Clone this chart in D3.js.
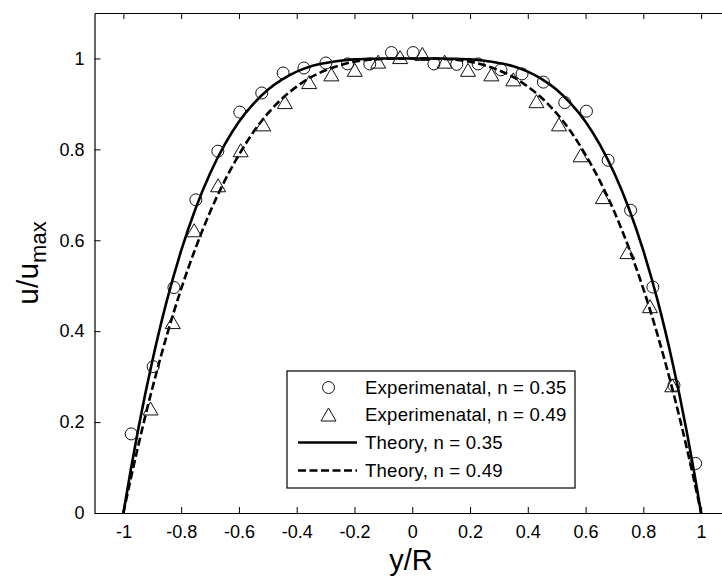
<!DOCTYPE html>
<html>
<head>
<meta charset="utf-8">
<script src="https://cdn.jsdelivr.net/npm/d3@7"></script>
<style>
    html, body { margin: 0; padding: 0; background: #fff; }
    svg { display: block; font-family: "Liberation Sans", Arial, Helvetica, sans-serif; }
</style>
</head>
<body>
<div id="chart"></div>
<script>
// experimental points, n = 0.35 (circles)
const circleX = [-0.973, -0.897, -0.825, -0.749, -0.673, -0.597, -0.521, -0.447, -0.375, -0.299, -0.224, -0.147, -0.072,
    0.003, 0.075, 0.154, 0.228, 0.307, 0.380, 0.454, 0.528, 0.603, 0.678, 0.756, 0.833, 0.906, 0.981];
const circleY = [0.174, 0.322, 0.496, 0.689, 0.796, 0.882, 0.924, 0.968, 0.979, 0.990, 0.988, 0.988, 1.013,
    1.013, 0.988, 0.987, 0.988, 0.975, 0.966, 0.948, 0.903, 0.884, 0.776, 0.666, 0.497, 0.281, 0.109];

// experimental points, n = 0.49 (triangles)
const triangleX = [-0.906, -0.829, -0.755, -0.672, -0.594, -0.516, -0.441, -0.357, -0.280, -0.199, -0.118, -0.042,
    0.035, 0.112, 0.193, 0.274, 0.350, 0.430, 0.508, 0.583, 0.660, 0.745, 0.823, 0.900];
const triangleY = [0.230, 0.420, 0.622, 0.721, 0.798, 0.855, 0.904, 0.948, 0.965, 0.975, 0.993, 1.003,
    1.010, 0.993, 0.975, 0.965, 0.954, 0.906, 0.855, 0.787, 0.695, 0.574, 0.455, 0.281];

// theory curves
const theoryX = [-1, -0.975, -0.95, -0.925, -0.9, -0.85, -0.8, -0.75, -0.7, -0.65, -0.6, -0.55, -0.5, -0.45, -0.4,
    -0.35, -0.3, -0.25, -0.2, -0.15, -0.1, -0.05, 0, 0.05, 0.1, 0.15, 0.2, 0.25, 0.3, 0.35, 0.4, 0.45, 0.5,
    0.55, 0.6, 0.65, 0.7, 0.75, 0.8, 0.85, 0.9, 0.925, 0.95, 0.975, 1];
const theory035 = [0, 0.093, 0.180, 0.260, 0.334, 0.466, 0.577, 0.670, 0.747, 0.810, 0.861, 0.900, 0.931, 0.954, 0.971,
    0.983, 0.990, 0.995, 0.998, 0.999, 1.000, 1.000, 1.000, 1.000, 1.000, 0.999, 0.998, 0.995, 0.990, 0.983, 0.971, 0.954, 0.931,
    0.900, 0.861, 0.810, 0.747, 0.670, 0.577, 0.466, 0.334, 0.260, 0.180, 0.093, 0];
const theory049 = [0, 0.074, 0.144, 0.211, 0.274, 0.390, 0.493, 0.583, 0.662, 0.730, 0.788, 0.838, 0.879, 0.912, 0.938,
    0.959, 0.974, 0.985, 0.993, 0.997, 0.999, 1.000, 1.000, 1.000, 0.999, 0.997, 0.993, 0.985, 0.974, 0.959, 0.938, 0.912, 0.879,
    0.838, 0.788, 0.730, 0.662, 0.583, 0.493, 0.390, 0.274, 0.211, 0.144, 0.074, 0];

const xTicks = [-1, -0.8, -0.6, -0.4, -0.2, 0, 0.2, 0.4, 0.6, 0.8, 1];
const yTicks = [0, 0.2, 0.4, 0.6, 0.8, 1];
const legendLabels = ["Experimenatal, n = 0.35", "Experimenatal, n = 0.49", "Theory, n = 0.35", "Theory, n = 0.49"];

const width = 722;
const height = 576;
const plot = { left: 94.5, right: 730, top: 13, bottom: 513 };
const tickLen = 6;
const dashes = "8,3.5";

const x = d3.scaleLinear().domain([-1.1, 1.1]).range([plot.left, plot.right]);
const y = d3.scaleLinear().domain([0, 1.1]).range([plot.bottom, plot.top]);

const svg = d3.select("#chart").append("svg").attr("width", width).attr("height", height);

// axes (inward ticks on all sides, like matlab)
const fmt = d => String(d);
svg.append("g")
    .attr("transform", `translate(0,${plot.bottom})`)
    .call(d3.axisBottom(x).tickValues(xTicks).tickFormat(fmt).tickSizeInner(-tickLen).tickSizeOuter(0).tickPadding(12));
svg.append("g")
    .attr("transform", `translate(0,${plot.top})`)
    .call(d3.axisTop(x).tickValues(xTicks).tickFormat("").tickSizeInner(-tickLen).tickSizeOuter(0));
svg.append("g")
    .attr("transform", `translate(${plot.left},0)`)
    .call(d3.axisLeft(y).tickValues(yTicks).tickFormat(fmt).tickSizeInner(-tickLen).tickSizeOuter(0).tickPadding(10));
svg.append("g")
    .attr("transform", `translate(${plot.right},0)`)
    .call(d3.axisRight(y).tickValues(yTicks).tickFormat("").tickSizeInner(-tickLen).tickSizeOuter(0));

svg.selectAll(".domain").attr("stroke", "#000").attr("stroke-width", 1.2);
svg.selectAll(".tick line").attr("stroke", "#000");
svg.selectAll(".tick text").attr("font-size", 18).attr("fill", "#000").attr("font-family", null);

// theory curves
const curve = vals => d3.line()
    .x((d, i) => x(theoryX[i]))
    .y(d => y(d))
    .curve(d3.curveMonotoneX)(vals);

svg.append("path")
    .attr("d", curve(theory049))
    .attr("fill", "none")
    .attr("stroke", "#000")
    .attr("stroke-width", 2.6)
    .attr("stroke-dasharray", dashes);
svg.append("path")
    .attr("d", curve(theory035))
    .attr("fill", "none")
    .attr("stroke", "#000")
    .attr("stroke-width", 2.6);

// markers
const triPath = "M0,-6.5L7.5,6.5L-7.5,6.5Z";
svg.append("g").selectAll("circle")
    .data(circleX)
    .join("circle")
    .attr("cx", d => x(d))
    .attr("cy", (d, i) => y(circleY[i]))
    .attr("r", 6)
    .attr("fill", "none")
    .attr("stroke", "#111")
    .attr("stroke-width", 1);
svg.append("g").selectAll("path")
    .data(triangleX)
    .join("path")
    .attr("d", triPath)
    .attr("transform", (d, i) => `translate(${x(d)},${y(triangleY[i])})`)
    .attr("fill", "none")
    .attr("stroke", "#111")
    .attr("stroke-width", 1);

// legend
const legend = svg.append("g").attr("transform", "translate(287,371)");
legend.append("rect")
    .attr("width", 288)
    .attr("height", 117)
    .attr("fill", "#fff")
    .attr("stroke", "#000")
    .attr("stroke-width", 1.2);

const rowY = [16.5, 43.5, 71.5, 99.5];
legend.append("circle").attr("cx", 41.5).attr("cy", rowY[0]).attr("r", 6)
    .attr("fill", "none").attr("stroke", "#111");
legend.append("path").attr("d", triPath).attr("transform", `translate(41.5,${rowY[1]})`)
    .attr("fill", "none").attr("stroke", "#111");
legend.append("line").attr("x1", 11).attr("x2", 70).attr("y1", rowY[2]).attr("y2", rowY[2])
    .attr("stroke", "#000").attr("stroke-width", 2.6);
legend.append("line").attr("x1", 11).attr("x2", 70).attr("y1", rowY[3]).attr("y2", rowY[3])
    .attr("stroke", "#000").attr("stroke-width", 2.6).attr("stroke-dasharray", dashes);

legend.selectAll("text")
    .data(legendLabels)
    .join("text")
    .attr("x", 78)
    .attr("y", (d, i) => rowY[i] + 6.5)
    .attr("font-size", 18.6)
    .attr("letter-spacing", 0.2)
    .text(d => d);

// axis labels
svg.append("text")
    .attr("x", 411)
    .attr("y", 570)
    .attr("text-anchor", "middle")
    .attr("font-size", 29)
    .text("y/R");

const ylab = svg.append("text")
    .attr("transform", `translate(38,${(plot.top + plot.bottom) / 2}) rotate(-90)`)
    .attr("text-anchor", "middle")
    .attr("font-size", 30);
ylab.append("tspan").text("u/u");
ylab.append("tspan").attr("font-size", 22).attr("dy", 8).text("max");
</script>
</body>
</html>
